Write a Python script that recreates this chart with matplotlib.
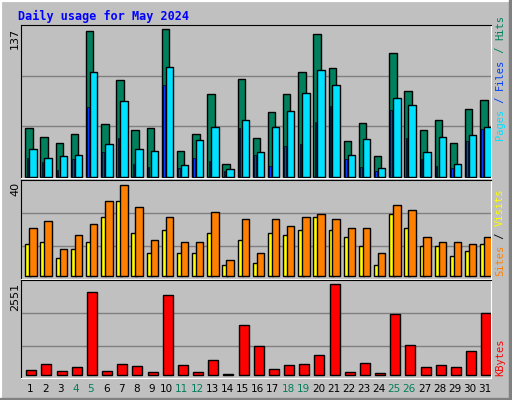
import matplotlib
matplotlib.use("Agg")
import matplotlib.pyplot as plt
import numpy as np
from matplotlib.patches import Rectangle

days = list(range(1, 32))
hits = [45,37,31,40,135,49,90,43,45,137,24,40,77,12,91,36,60,77,97,133,101,33,50,19,115,80,43,53,31,63,71]
files = [26,17,19,20,97,30,70,26,24,102,11,34,46,7,53,23,46,61,78,99,85,20,35,8,73,67,23,37,12,39,46]
pages = [17,14,6,16,65,23,36,12,9,85,8,17,15,5,45,20,10,29,30,51,66,16,9,5,62,36,16,10,8,33,44]
sites = [14,15,8,12,15,26,33,19,10,20,10,10,19,5,16,6,19,18,20,26,20,17,13,5,27,21,13,13,9,11,14]
visits = [21,24,12,18,23,33,40,30,16,26,15,15,28,7,25,10,25,22,26,27,25,21,21,10,31,29,17,15,15,14,17]
kbytes = [140,308,112,224,2327,112,308,252,84,2243,280,84,420,37,1402,813,168,280,308,561,2551,84,336,56,1710,841,224,280,224,673,1738]
weekend = [4,5,11,12,18,19,25,26]

W, H = 512, 400
fig = plt.figure(figsize=(W/100, H/100), dpi=100)
fig.patch.set_facecolor("#C0C0C0")
fig.patches.append(Rectangle((0, 0), 1, 1, transform=fig.transFigure, fill=False, edgecolor="white", lw=3))
fig.patches.append(Rectangle((0, 0), 1, 2/H, transform=fig.transFigure, color="#808080"))
fig.patches.append(Rectangle((1-3/W, 0), 3/W, 1, transform=fig.transFigure, color="#808080"))

def ax_at(y0, y1):
    x0, x1 = 20.7, 490.7
    a = fig.add_axes([x0/W, 1-y1/H, (x1-x0)/W, (y1-y0)/H])
    a.set_facecolor("#C0C0C0")
    for s in ["left", "top"]:
        a.spines[s].set_color("black")
    for s in ["right", "bottom"]:
        a.spines[s].set_color("white")
    a.set_xlim(0.5, 31.5)
    a.set_xticks([]); a.set_yticks([])
    return a

d = np.array(days)
ec = dict(edgecolor="black", linewidth=1)

a1 = ax_at(25, 178)
a1.set_ylim(-1.2, 141)
for g in (47, 94):
    a1.axhline(g, color="#808080", lw=1, zorder=0)
a1.bar(d+0.05, hits, width=0.49, color="#00805C", zorder=2, **ec)
a1.bar(d+0.31, files, width=0.49, color="#00E0FF", zorder=3, **ec)
a1.bar(d-0.06, pages, width=0.1, color="#0040FF", zorder=4, edgecolor="black", linewidth=0.5)

a2 = ax_at(180, 279)
a2.set_ylim(-1.2, 42)
for g in (13, 27.4):
    a2.axhline(g, color="#808080", lw=1, zorder=0)
a2.bar(d-0.02, sites, width=0.35, color="#FFFF00", zorder=2, **ec)
a2.bar(d+0.31, visits, width=0.49, color="#FF8000", zorder=3, **ec)

a3 = ax_at(280, 378)
a3.set_ylim(-76, 2671)
for g in (813, 1738):
    a3.axhline(g, color="#808080", lw=1, zorder=0)
a3.bar(d+0.2, kbytes, width=0.66, color="#FF0000", zorder=2, **ec)

mono = "DejaVu Sans Mono"
fig.text(18/W, 1-16/H, "Daily usage for May 2024", color="#0000FF", fontsize=8.5,
         fontweight="bold", family=mono, va="center", ha="left")

for y, s in [(28, "137"), (182, "40"), (283, "2551")]:
    fig.text(15/W, 1-y/H, s, rotation=90, fontsize=8, va="top", ha="center", family="DejaVu Sans")

for dd in days:
    x = 20.7 + (dd-0.5)*470/31 + 2
    fig.text(x/W, 1-389/H, str(dd), fontsize=7.5, ha="center", va="center",
             color="#00805C" if dd in weekend else "black")

renderer = fig.canvas.get_renderer()

def right_label(parts, ybottom, ytop):
    full = "".join(p for p, _ in parts)
    probe = fig.text(0, 0, full, rotation=90, fontsize=7.5, family=mono)
    h = probe.get_window_extent(renderer).height
    probe.remove()
    per = h / len(full)
    y = ybottom
    for txt, col in parts:
        fig.text(500/W, 1-y/H, txt, rotation=90, fontsize=7.5, family=mono,
                 color=col, ha="center", va="bottom", rotation_mode="default")
        y -= len(txt) * per

right_label([("Pages", "#00E0FF"), (" / ", "#0040FF"), ("Files", "#0040FF"), (" / ", "#00805C"), ("Hits", "#00805C")], 140, 27)
right_label([("Sites", "#FF8000"), (" / ", "#000000"), ("Visits", "#FFFF00")], 276, 198)
right_label([("KBytes", "#FF0000")], 376, 325)

fig.savefig("out.png", dpi=100, facecolor=fig.get_facecolor())
